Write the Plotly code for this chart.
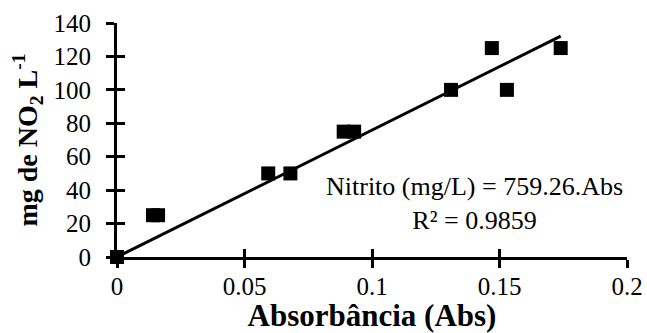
import plotly.graph_objects as go

# Data
absorbance = [0.0, 0.0141, 0.0161, 0.0593, 0.068, 0.0889, 0.093, 0.131, 0.147, 0.1529, 0.174]
nitrite = [0, 25, 25, 50, 50, 75, 75, 100, 125, 100, 125]
slope = 759.26
r2 = 0.9859
x_ticks = [0, 0.05, 0.1, 0.15, 0.2]
x_tick_labels = ["0", "0.05", "0.1", "0.15", "0.2"]
y_ticks = [0, 20, 40, 60, 80, 100, 120, 140]

FONT = "Liberation Serif"

trend_x = [0, max(absorbance)]
trend_y = [slope * v for v in trend_x]

fig = go.Figure()
fig.add_trace(go.Scatter(x=trend_x, y=trend_y, mode="lines",
                         line=dict(color="black", width=3), showlegend=False,
                         hoverinfo="skip"))
fig.add_trace(go.Scatter(x=absorbance, y=nitrite, mode="markers",
                         marker=dict(symbol="square", size=14, color="black"),
                         cliponaxis=False, showlegend=False))
# dummy trace for the overlay axes (inside half of cross ticks)
fig.add_trace(go.Scatter(x=[None], y=[None], xaxis="x2", yaxis="y2",
                         showlegend=False, hoverinfo="skip"))

axis_common = dict(showgrid=False, zeroline=False, tickcolor="black",
                   tickwidth=3, ticklen=8, automargin=False)

fig.update_layout(
    width=647, height=333,
    margin=dict(l=117, r=20, t=23, b=76),
    plot_bgcolor="white", paper_bgcolor="white",
    font=dict(family=FONT, color="black", size=25),
    xaxis=dict(range=[0, 0.2], tickvals=x_ticks, ticktext=x_tick_labels,
               ticks="outside", showline=True, linecolor="black", linewidth=3,
               tickfont=dict(size=25, family=FONT), ticklabelstandoff=-3,
               title=dict(text="<b>Absorbância (Abs)</b>", font=dict(size=31, family=FONT),
                          standoff=1),
               **axis_common),
    yaxis=dict(range=[0, 140], tickvals=y_ticks, ticks="outside",
               showline=True, linecolor="black", linewidth=3,
               tickfont=dict(size=25, family=FONT), ticklabelstandoff=10,
               title=dict(text="<b>mg de NO<sub>2</sub> L<sup>-1</sup></b>",
                          font=dict(size=28, family=FONT), standoff=8),
               **axis_common),
    xaxis2=dict(range=[0, 0.2], tickvals=x_ticks, ticks="inside", overlaying="x",
                anchor="y2", side="bottom", showticklabels=False, showline=False,
                **axis_common),
    yaxis2=dict(range=[0, 140], tickvals=y_ticks, ticks="inside", overlaying="y",
                anchor="x2", side="left", showticklabels=False, showline=False,
                **axis_common),
    annotations=[dict(x=0.14, y=32, xref="x", yref="y",
                      text=f"Nitrito (mg/L) = {slope}.Abs<br>R² = {r2}",
                      showarrow=False, align="center",
                      font=dict(size=26, family=FONT, color="black"))],
)

fig.write_html("out.html")
